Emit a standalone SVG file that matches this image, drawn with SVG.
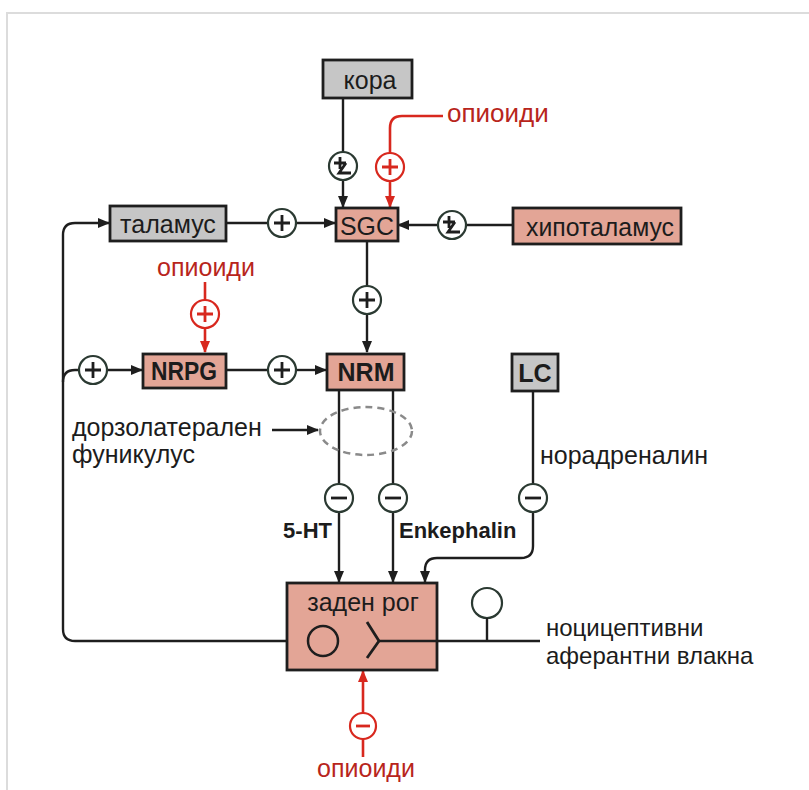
<svg xmlns="http://www.w3.org/2000/svg" width="809" height="790" viewBox="0 0 809 790">
<style>
text{font-family:"Liberation Sans",Arial,sans-serif;fill:#1c1c1c}
.box{stroke:#1e1e1e;stroke-width:2.8}
.pink{fill:#e3a596}
.gray{fill:#c6c6c6}
.lbl{font-size:25px;text-anchor:middle}
.bold{font-weight:bold}
.red{fill:#b8251c}
.ln{fill:none;stroke:#1e1e1e;stroke-width:2.4}
.rln{fill:none;stroke:#d8281e;stroke-width:2.6}
.sig{fill:#fff;stroke:#2b3a32;stroke-width:2.2}
.rsig{fill:#fff;stroke:#d8281e;stroke-width:2.2}
.mk{fill:none;stroke:#1e1e1e;stroke-width:2.8}
.rmk{fill:none;stroke:#d8281e;stroke-width:2.8}
</style>
<defs>
<marker id="ah" markerWidth="12" markerHeight="10" refX="11" refY="5" orient="auto" markerUnits="userSpaceOnUse"><path d="M0,0 L12,5 L0,10 Z" fill="#1e1e1e"/></marker>
<marker id="rah" markerWidth="12" markerHeight="10" refX="11" refY="5" orient="auto" markerUnits="userSpaceOnUse"><path d="M0,0 L12,5 L0,10 Z" fill="#d8281e"/></marker>
<g id="plus"><circle r="14" class="sig"/><path d="M-8,0 H8 M0,-8 V8" class="mk"/></g>
<g id="minus"><circle r="14" class="sig"/><path d="M-8,0 H8" class="mk" stroke-width="3.2"/></g>
<g id="pm"><circle r="14" class="sig"/><path d="M-9,-3 H3 M-3,-9 V3 M3,-3 L-4,7 H8" class="mk" stroke-width="2.4"/></g>
<g id="rplus"><circle r="14" class="rsig"/><path d="M-8,0 H8 M0,-8 V8" class="rmk"/></g>
<g id="rminus"><circle r="13" class="rsig"/><path d="M-7,0 H7" class="rmk" stroke-width="3.2"/></g>
</defs>
<rect x="0" y="0" width="809" height="790" fill="#ffffff"/>
<rect x="7" y="13" width="830" height="800" fill="none" stroke="#dcdcdc" stroke-width="2"/>

<g id="connectors">
<path class="ln" d="M343,98 V152"/><path class="ln" d="M343,180 V207" marker-end="url(#ah)"/>
<path class="rln" d="M443,116 H402 Q390,116 390,128 V153"/><path class="rln" d="M390,181 V207" marker-end="url(#rah)"/>
<path class="ln" d="M226,223 H268"/><path class="ln" d="M296,223 H335" marker-end="url(#ah)"/>
<path class="ln" d="M513,225 H466"/><path class="ln" d="M438,225 H398" marker-end="url(#ah)"/>
<path class="ln" d="M367,241 V286"/><path class="ln" d="M367,314 V352" marker-end="url(#ah)"/>
<path class="rln" d="M205,282 V300"/><path class="rln" d="M205,328 V352" marker-end="url(#rah)"/>
<path class="ln" d="M308,641 H75 Q63,641 63,629 V235 Q63,223 75,223 H109" marker-end="url(#ah)"/>
<path class="ln" d="M63,382 Q63,370 75,370 H79"/><path class="ln" d="M107,370 H142" marker-end="url(#ah)"/>
<path class="ln" d="M226,370 H268"/><path class="ln" d="M296,370 H326" marker-end="url(#ah)"/>
<path class="ln" d="M272,430 H318" marker-end="url(#ah)"/>
<path class="ln" d="M339,391 V484"/><path class="ln" d="M339,512 V582" marker-end="url(#ah)"/>
<path class="ln" d="M393,391 V484"/><path class="ln" d="M393,512 V582" marker-end="url(#ah)"/>
<path class="ln" d="M533,392 V484"/><path class="ln" d="M533,512 V546 Q533,558 521,558 H437 Q425,558 425,570 V582" marker-end="url(#ah)"/>
<path class="rln" d="M363,757 V739"/><path class="rln" d="M363,713 V671" marker-end="url(#rah)"/>
<use href="#pm" x="343" y="166"/>
<use href="#rplus" x="390" y="167"/>
<use href="#plus" x="282" y="223"/>
<use href="#pm" x="452" y="225"/>
<use href="#plus" x="367" y="300"/>
<use href="#rplus" x="205" y="314"/>
<use href="#plus" x="93" y="370"/>
<use href="#plus" x="282" y="370"/>
<use href="#minus" x="339" y="498"/>
<use href="#minus" x="393" y="498"/>
<use href="#minus" x="533" y="498"/>
<use href="#rminus" x="363" y="726"/>
<ellipse cx="366" cy="431" rx="46" ry="24" fill="none" stroke="#8a8a8a" stroke-width="2.5" stroke-dasharray="7,5"/>
</g>

<g id="kora"><rect class="box gray" x="323" y="60" width="89" height="38"/><text class="lbl" x="370" y="89" font-size="27">кора</text></g>
<g id="sgc"><rect class="box pink" x="336" y="208" width="62" height="33"/><text class="lbl" x="367" y="235" font-size="27" textLength="54" lengthAdjust="spacingAndGlyphs">SGC</text></g>
<g id="talamus"><rect class="box gray" x="110" y="206" width="116" height="35"/><text class="lbl" x="168" y="233" font-size="26">таламус</text></g>
<g id="hipotalamus"><rect class="box pink" x="513" y="208" width="168" height="36"/><text class="lbl" x="600" y="236" font-size="26" textLength="148" lengthAdjust="spacingAndGlyphs">хипоталамус</text></g>
<g id="nrpg"><rect class="box pink" x="143" y="354" width="83" height="34"/><text class="lbl bold" x="184" y="380" font-size="23" textLength="66" lengthAdjust="spacingAndGlyphs">NRPG</text></g>
<g id="nrm"><rect class="box pink" x="327" y="354" width="77" height="36"/><text class="lbl bold" x="366" y="381" font-size="23">NRM</text></g>
<g id="lc"><rect class="box gray" x="512" y="354" width="46" height="37"/><text class="lbl bold" x="535" y="382" font-size="24">LC</text></g>
<g id="zaden-rog">
<rect class="box pink" x="287" y="583" width="150" height="87"/>
<text class="lbl" x="363" y="611" font-size="25">заден рог</text>
<path class="ln" d="M378,641 H540"/>
<circle cx="323" cy="641" r="15" fill="none" stroke="#1e1e1e" stroke-width="2.5"/>
<path d="M367,622 L379,641 L367,658" fill="none" stroke="#1e1e1e" stroke-width="2.8"/>
<circle cx="487" cy="603" r="15" fill="#fff" stroke="#2b3a32" stroke-width="2.2"/>
<path class="ln" d="M487,618 V641"/>
</g>

<g id="labels">
<text class="red" x="447" y="122" font-size="26">опиоиди</text>
<text class="red lbl" x="206" y="276" font-size="25">опиоиди</text>
<text class="red lbl" x="366" y="777" font-size="22">опиоиди</text>
<text x="72" y="436" font-size="25">дорзолатерален</text>
<text x="72" y="463" font-size="25">фуникулус</text>
<text x="540" y="464" font-size="25">норадреналин</text>
<text class="bold" x="332" y="538" font-size="22" text-anchor="end">5-HT</text>
<text class="bold" x="399" y="538" font-size="22">Enkephalin</text>
<text x="546" y="636" font-size="24">ноцицептивни</text>
<text x="546" y="664" font-size="24">аферантни влакна</text>
</g>
</svg>
